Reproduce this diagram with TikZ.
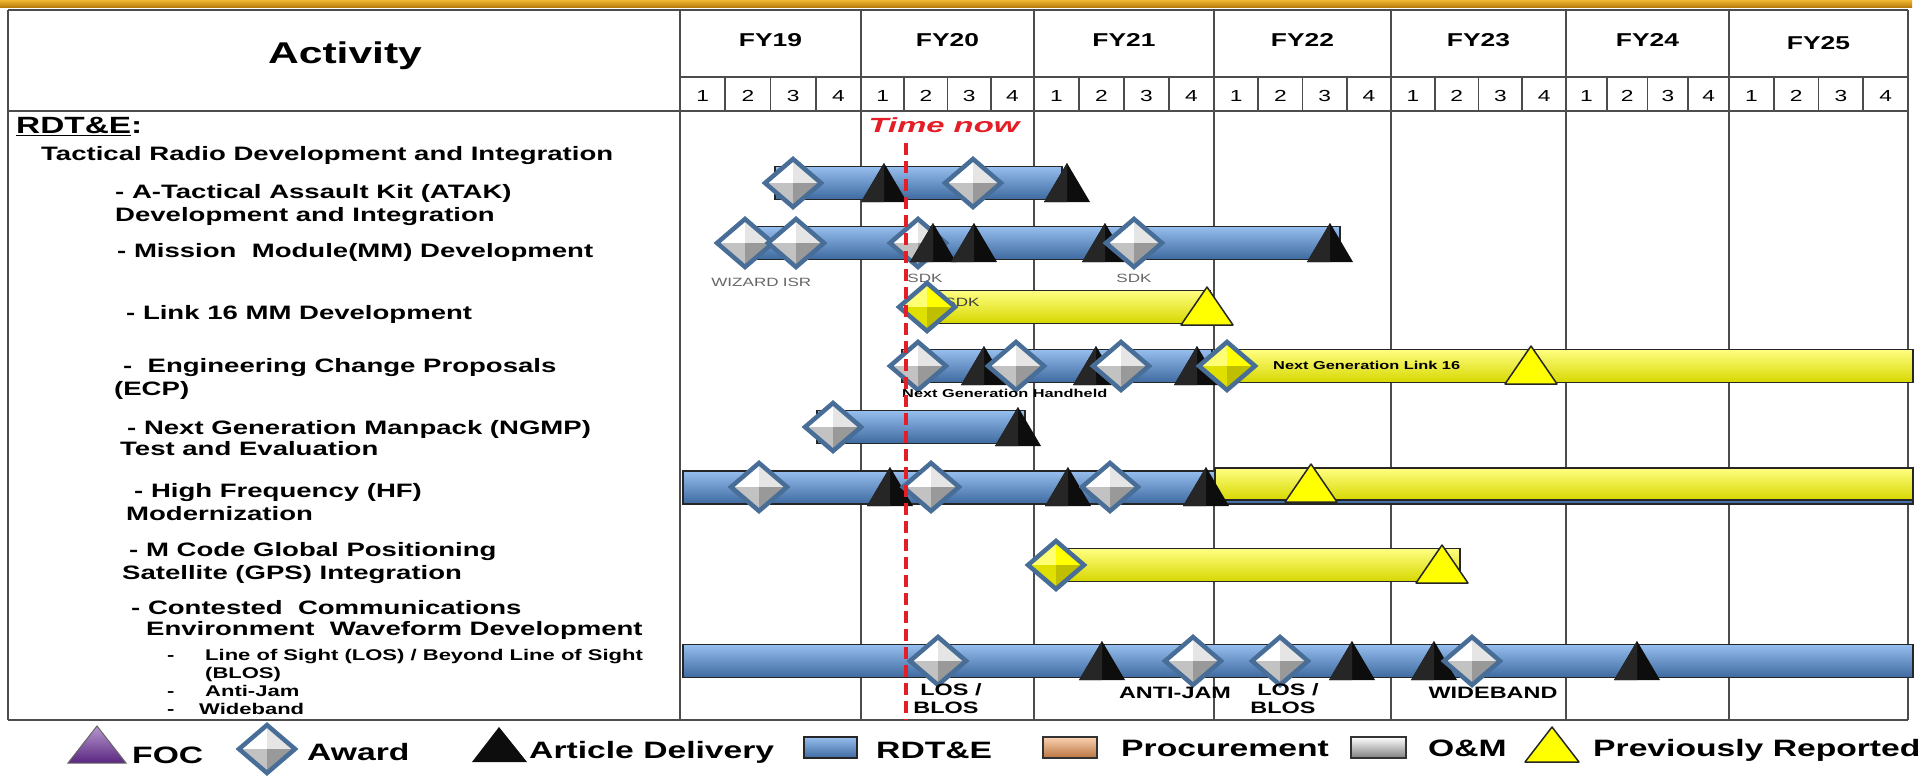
\documentclass[tikz,border=0pt]{standalone}
\usepackage{fontspec}
\setmainfont{Liberation Sans}
\usepackage{graphicx}
\newcommand{\sx}[1]{\scalebox{1.42}[1]{#1}}
\newcommand{\tx}[1]{\scalebox{1.6}[1]{#1}}
\definecolor{rdtBlue}{RGB}{82,136,200}
\definecolor{rdtLight}{RGB}{150,190,238}
\definecolor{rdtDark}{RGB}{62,106,160}
\definecolor{prYel}{RGB}{255,255,0}
\definecolor{prYelLight}{RGB}{255,255,130}
\definecolor{prYelDark}{RGB}{215,215,0}
\definecolor{dmBorder}{RGB}{72,110,152}
\definecolor{tnRed}{RGB}{228,30,38}
\definecolor{gold1}{RGB}{240,184,50}
\definecolor{gold2}{RGB}{178,116,8}
\definecolor{focPurple}{RGB}{112,48,160}
\definecolor{procOrange}{RGB}{247,155,85}
\tikzset{
  award/.pic={
    \fill[white] (0,0)--(-28,0)--(0,-24)--cycle;
    \fill[black!10] (0,0)--(0,-24)--(28,0)--cycle;
    \fill[black!24] (0,0)--(-28,0)--(0,24)--cycle;
    \fill[black!40] (0,0)--(28,0)--(0,24)--cycle;
    \draw[dmBorder, line width=4.5, line join=miter] (0,-24)--(28,0)--(0,24)--(-28,0)--cycle;
  },
  yaward/.pic={
    \fill[prYel!55!white] (0,0)--(-28,0)--(0,-24)--cycle;
    \fill[prYel] (0,0)--(0,-24)--(28,0)--cycle;
    \fill[prYel!88!black] (0,0)--(-28,0)--(0,24)--cycle;
    \fill[prYel!75!black] (0,0)--(28,0)--(0,24)--cycle;
    \draw[dmBorder, line width=4.5, line join=miter] (0,-24)--(28,0)--(0,24)--(-28,0)--cycle;
  },
  deliv/.pic={
    \fill[black!95] (0,-20)--(23,19)--(-23,19)--cycle;
    \fill[black!85] (0,-20)--(0,19)--(-23,19)--cycle;
  },
  prev/.pic={
    \filldraw[fill=prYel, draw=black!85, line width=1.5, line join=round] (0,-20)--(26,18)--(-26,18)--cycle;
  }
}
\begin{document}
\begin{tikzpicture}[x=1pt, y=-1pt,
  grid/.style={draw=black!70, line width=1.6},
  lab/.style={anchor=base west, inner sep=0pt, yshift=-7pt, font=\fontsize{19.4}{23}\selectfont\bfseries},
  sublab/.style={anchor=base west, inner sep=0pt, yshift=-5.6pt, font=\fontsize{15.5}{18}\selectfont\bfseries},
  fy/.style={anchor=base, inner sep=0pt, yshift=-6.7pt, font=\fontsize{18.6}{22}\selectfont\bfseries},
  qn/.style={anchor=base, inner sep=0pt, yshift=-5.8pt, font=\fontsize{16}{19}\selectfont},
  tag/.style={anchor=base, inner sep=0pt, yshift=-4.3pt, text=black!60, font=\fontsize{12}{14}\selectfont},
  ngtag/.style={anchor=base west, inner sep=0pt, yshift=-4.1pt, font=\fontsize{11.5}{13}\selectfont\bfseries},
  bot/.style={anchor=base, inner sep=0pt, yshift=-5.9pt, font=\fontsize{16.5}{19}\selectfont\bfseries},
  leg/.style={anchor=base west, inner sep=0pt, yshift=-8.5pt, font=\fontsize{23.7}{28}\selectfont\bfseries},
  bluebar/.style={draw=black!85, line width=1.2, top color=rdtLight, middle color=rdtBlue, bottom color=rdtDark},
  yelbar/.style={draw=black!85, line width=1.2, top color=prYelLight, middle color=prYel, bottom color=prYelDark},
  orbox/.style={draw=black!80, line width=1.2, top color=procOrange!45!white, middle color=procOrange, bottom color=procOrange!75!black},
  gybox/.style={draw=black!80, line width=1.2, top color=white, middle color=black!22, bottom color=black!50},
]
\useasboundingbox (0,0) rectangle (1929,776);
% top gold band
\shade[top color=gold1, bottom color=gold2] (0,0) rectangle (1912,8);

% table grid
\draw[grid] (8,10) -- (1908,10);
\draw[grid] (680,77) -- (1908,77);
\draw[grid] (8,111) -- (1908,111);
\draw[grid] (8,720) -- (1908,720);
\draw[grid] (8,10) -- (8,720);
\foreach \x in {680,861,1034,1214,1391,1566,1729,1908} \draw[grid] (\x,10) -- (\x,720);

\node[anchor=base, inner sep=0pt, yshift=-10.7pt, font=\fontsize{30}{34}\selectfont\bfseries] (act) at (345,53) {\sx{Activity}};

\foreach \a/\b/\lab/\dy in {680/861/FY19/0, 861/1034/FY20/0, 1034/1214/FY21/0, 1214/1391/FY22/0, 1391/1566/FY23/0, 1566/1729/FY24/0, 1729/1908/FY25/3} {
  \node[fy] (fy-\lab) at ({(\a+\b)/2},{40+\dy}) {\sx{\lab}};
  \foreach \q in {1,2,3,4} {\node[qn] (q-\lab-\q) at ({\a+(\q-0.5)*(\b-\a)/4},96) {\sx{\q}};}
  \foreach \q in {1,2,3} {\draw[grid] ({\a+\q*(\b-\a)/4},77) -- ({\a+\q*(\b-\a)/4},111);}
}

% activity labels
\node[anchor=base west, inner sep=0pt, yshift=-8.5pt, font=\fontsize{23.5}{27}\selectfont\bfseries] (rdte) at (16,125) {\sx{\underline{RDT\&E}:}};
\node[lab] (l1) at (41,153) {\sx{Tactical Radio Development and Integration}};
\node[lab] (l2a) at (115,191) {\sx{- A-Tactical Assault Kit (ATAK)}};
\node[lab] (l2b) at (115,214) {\sx{Development and Integration}};
\node[lab] (l3) at (117,250) {\sx{- Mission\ \ Module(MM) Development}};
\node[lab] (l4) at (126,312) {\sx{- Link 16 MM Development}};
\node[lab] (l5a) at (123,365) {\sx{-\ \ Engineering Change Proposals}};
\node[lab] (l5b) at (114,388) {\sx{(ECP)}};
\node[lab] (l6a) at (127,427) {\sx{- Next Generation Manpack (NGMP)}};
\node[lab] (l6b) at (120,448) {\sx{Test and Evaluation}};
\node[lab] (l7a) at (134,490) {\sx{- High Frequency (HF)}};
\node[lab] (l7b) at (126,513) {\sx{Modernization}};
\node[lab] (l8a) at (129,549) {\sx{- M Code Global Positioning}};
\node[lab] (l8b) at (122,572) {\sx{Satellite (GPS) Integration}};
\node[lab] (l9a) at (131,607) {\sx{- Contested\ \ Communications}};
\node[lab] (l9b) at (146,628) {\sx{Environment\ \ Waveform Development}};
\node[sublab] (d1) at (167,655) {\sx{-}};
\node[sublab] (s1a) at (205,655) {\sx{Line of Sight (LOS) / Beyond Line of Sight}};
\node[sublab] (s1b) at (205,673) {\sx{(BLOS)}};
\node[sublab] (d2) at (167,691) {\sx{-}};
\node[sublab] (s2) at (205,691) {\sx{Anti-Jam}};
\node[sublab] (d3) at (167,709) {\sx{-}};
\node[sublab] (s3) at (199,709) {\sx{Wideband}};

% ATAK row
\path[bluebar] (775,166.5) rectangle (1062,199.5);
\pic at (793,183) {award};
\pic at (884,183) {deliv};
\pic at (973,183) {award};
\pic at (1067,183) {deliv};

% Mission module row
\path[bluebar] (745,226.5) rectangle (1340,259.5);
\pic at (745,243) {award};
\pic at (796,243) {award};
\pic at (918,243) {award};
\pic at (933,243) {deliv};
\pic at (974,243) {deliv};
\pic at (1105,243) {deliv};
\pic at (1134,243) {award};
\pic at (1330,243) {deliv};
\node[tag] (tw) at (745,282) {\sx{WIZARD}};
\node[tag] (ti) at (797,282) {\sx{ISR}};
\node[tag] (ts1) at (925,278) {\sx{SDK}};
\node[tag] (ts2) at (1134,278) {\sx{SDK}};

% Link 16 row
\path[yelbar] (927,290.5) rectangle (1210,323.5);
\node[tag, text=black!75] (ts3) at (962,302) {\sx{SDK}};
\pic at (927,307) {yaward};
\pic at (1207,307) {prev};

% ECP row
\path[bluebar] (902,349.5) rectangle (1212,382.5);
\path[yelbar] (1212,349.5) rectangle (1913,382.5);
\pic at (918,366) {award};
\pic at (984,366) {deliv};
\pic at (1016,366) {award};
\pic at (1096,366) {deliv};
\pic at (1121,366) {award};
\pic at (1197,366) {deliv};
\pic at (1227,366) {yaward};
\pic at (1531,366) {prev};
\node[ngtag] (ngl) at (1273,365) {\sx{Next Generation Link 16}};
\node[ngtag] (ngh) at (902,393) {\sx{Next Generation Handheld}};

% NGMP row
\path[bluebar] (817,410.5) rectangle (1025,443.5);
\pic at (833,427) {award};
\pic at (1018,427) {deliv};

% HF row
\path[bluebar] (683,471) rectangle (1913,504);
\path[yelbar] (1215,468) rectangle (1913,500);
\pic at (759,487) {award};
\pic at (890,487) {deliv};
\pic at (931,487) {award};
\pic at (1068,487) {deliv};
\pic at (1110,487) {award};
\pic at (1206,487) {deliv};
\pic at (1311,484) {prev};

% GPS row
\path[yelbar] (1056,548.5) rectangle (1460,581.5);
\pic at (1056,565) {yaward};
\pic at (1442,565) {prev};

% CCEWD row
\path[bluebar] (683,644.5) rectangle (1913,677.5);
\pic at (938,661) {award};
\pic at (1102,661) {deliv};
\pic at (1193,661) {award};
\pic at (1280,661) {award};
\pic at (1352,661) {deliv};
\pic at (1434,661) {deliv};
\pic at (1472,661) {award};
\pic at (1637,661) {deliv};
\node[bot] (b1a) at (951,690) {\sx{LOS /}};
\node[bot] (b1b) at (946,708) {\sx{BLOS}};
\node[bot] (b2) at (1175,693) {\sx{ANTI-JAM}};
\node[bot] (b3a) at (1288,690) {\sx{LOS /}};
\node[bot] (b3b) at (1283,708) {\sx{BLOS}};
\node[bot] (b4) at (1493,693) {\sx{WIDEBAND}};

% time now
\node[anchor=base, inner sep=0pt, yshift=-7.4pt, text=tnRed, font=\fontsize{20.5}{24}\selectfont\bfseries\itshape] (tn) at (944,125) {\tx{Time now}};
\coordinate (tnTop) at (906,143);
\coordinate (tnBot) at (906,720);
\draw[tnRed, line width=3.5, dash pattern=on 12pt off 6pt] (tnTop) -- (tnBot);

% legend
\shade[top color=focPurple!50!white, bottom color=focPurple!80!black, draw=black!60, line width=1] (97,726)--(126,763)--(68,763)--cycle;
\node[leg] (lfoc) at (132,755) {\sx{FOC}};
\pic at (267,749) {award};
\node[leg] (law) at (307,752) {\sx{Award}};
\fill[black!95] (499,727)--(527,762)--(472,762)--cycle;
\node[leg] (lad) at (529,750) {\sx{Article Delivery}};
\path[bluebar] (804,737) rectangle (857,758);
\node[leg] (lrd) at (876,750) {\sx{RDT\&E}};
\path[orbox] (1043,737) rectangle (1097,758);
\node[leg] (lpr) at (1121,748) {\sx{Procurement}};
\path[gybox] (1351,737) rectangle (1406,758);
\node[leg] (lom) at (1428,748) {\sx{O\&M}};
\filldraw[fill=prYel, draw=black!85, line width=1.5, line join=round] (1552,727)--(1579,762)--(1525,762)--cycle;
\node[leg] (lpv) at (1593,748) {\sx{Previously Reported}};
\end{tikzpicture}
\end{document}
